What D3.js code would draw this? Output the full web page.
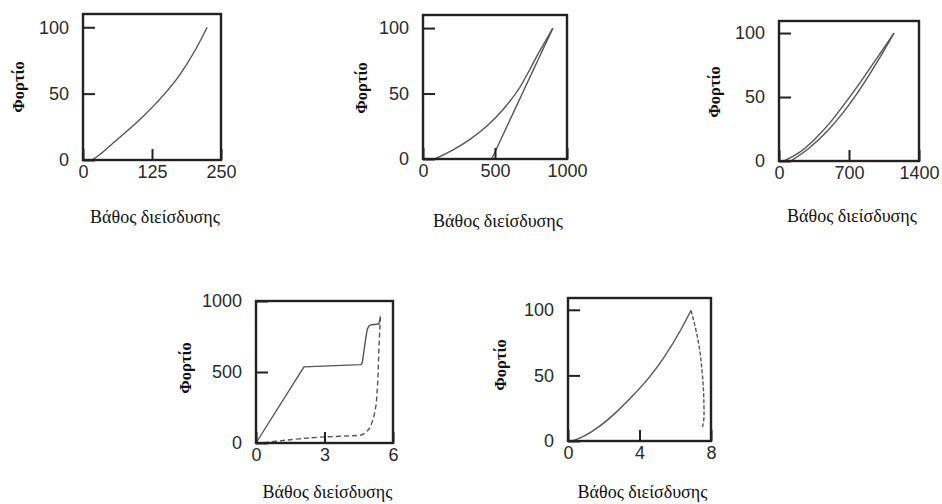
<!DOCTYPE html>
<html><head><meta charset="utf-8">
<script src="https://cdn.jsdelivr.net/npm/d3@7"></script>
<style>body{margin:0;background:#fff}svg{display:block}</style>
</head><body><svg id="c" width="942" height="504"></svg>
<script>
// ---- text ----
const xTitle = "Βάθος διείσδυσης";
const yTitle = "Φορτίο";

// ---- panel 1 ----
const p1XTicks = [0, 125, 250];
const p1YTicks = [0, 50, 100];
const p1LoadDepth = [16, 30, 55, 103, 145, 175, 205, 225];
const p1LoadForce = [0, 4, 13, 30.5, 48.5, 64, 84, 100];

// ---- panel 2 ----
const p2XTicks = [0, 500, 1000];
const p2YTicks = [0, 50, 100];
const p2LoadDepth = [81, 209, 326, 442, 558, 674, 740, 800, 850, 902];
const p2LoadForce = [0, 7, 15, 25, 38, 55, 68, 80.5, 90, 100];
const p2UnloadDepth = [477, 590, 700, 800, 902];
const p2UnloadForce = [0, 26.5, 52.5, 76, 100];

// ---- panel 3 ----
const p3XTicks = [0, 700, 1400];
const p3YTicks = [0, 50, 100];
const p3LoadDepth = [117, 300, 467, 633, 800, 967, 1150];
const p3LoadForce = [0, 10, 22, 37, 55, 75.5, 100];
const p3UnloadDepth = [50, 200, 350, 500, 650, 800, 967, 1150];
const p3UnloadForce = [0, 6.5, 16.5, 29, 44, 60, 79, 100];

// ---- panel 4 ----
const p4XTicks = [0, 3, 6];
const p4YTicks = [0, 500, 1000];
const p4LoadDepth = [0, 2.1, 4.6, 4.66, 4.72, 4.8, 4.87, 4.95, 5.07, 5.38, 5.45];
const p4LoadForce = [0, 536, 552, 570, 640, 730, 800, 825, 833, 838, 890];
const p4UnloadDepth = [5.45, 5.41, 5.37, 5.32, 5.22, 5.1, 4.95, 4.8, 4.6, 3.97, 3.03, 1.88, 0.87, 0.29];
const p4UnloadForce = [890, 760, 600, 400, 230, 155, 100, 75, 56, 49, 43, 29, 12, 0];

// ---- panel 5 ----
const p5XTicks = [0, 4, 8];
const p5YTicks = [0, 50, 100];
const p5LoadDepth = [0.24, 1.0, 1.64, 2.58, 3.51, 4.45, 5.38, 6.32, 6.88];
const p5LoadForce = [0, 4.5, 10, 20.5, 33, 47, 64, 85, 99.5];
const p5UnloadDepth = [6.88, 7.10, 7.35, 7.50, 7.59, 7.61, 7.51];
const p5UnloadForce = [99.5, 87.9, 71, 53, 35, 19.4, 9.6];

const zip = (xs, ys) => xs.map((x, i) => [x, ys[i]]);

const panels = [
  {box:[83,14,221,160], xMax:250, yMax:110, xt:p1XTicks, yt:p1YTicks,
   series:[{pts:zip(p1LoadDepth,p1LoadForce), dash:null, curve:d3.curveMonotoneX}],
   yTitleX:20, yTitleY:87, xTitleY:219},
  {box:[423,15,567,159], xMax:1000, yMax:110, xt:p2XTicks, yt:p2YTicks,
   series:[{pts:zip(p2LoadDepth,p2LoadForce), dash:null, curve:d3.curveMonotoneX},
           {pts:zip(p2UnloadDepth,p2UnloadForce), dash:null, curve:d3.curveMonotoneX}],
   yTitleX:363, yTitleY:88, xTitleY:223},
  {box:[779,21,919,161], xMax:1400, yMax:109.4, xt:p3XTicks, yt:p3YTicks,
   series:[{pts:zip(p3LoadDepth,p3LoadForce), dash:null, curve:d3.curveMonotoneX},
           {pts:zip(p3UnloadDepth,p3UnloadForce), dash:null, curve:d3.curveMonotoneX}],
   yTitleX:716, yTitleY:92, xTitleY:218},
  {box:[256,301,393,443], xMax:6, yMax:1000, xt:p4XTicks, yt:p4YTicks,
   series:[{pts:zip(p4LoadDepth,p4LoadForce), dash:null, curve:d3.curveLinear},
           {pts:zip(p4UnloadDepth,p4UnloadForce), dash:"5,3", curve:d3.curveMonotoneY}],
   yTitleX:187, yTitleY:368, xTitleY:494},
  {box:[568,298,711,441], xMax:8, yMax:109, xt:p5XTicks, yt:p5YTicks,
   series:[{pts:zip(p5LoadDepth,p5LoadForce), dash:null, curve:d3.curveMonotoneX},
           {pts:zip(p5UnloadDepth,p5UnloadForce), dash:"4,2", curve:d3.curveMonotoneY}],
   yTitleX:502, yTitleY:365, xTitleY:494}
];

const svg = d3.select("#c");
const tickFont = "Liberation Sans, Arial, sans-serif";
const serif = "Liberation Serif, Times New Roman, serif";

panels.forEach(p => {
  const [x0,y0,x1,y1] = p.box;
  const x = d3.scaleLinear().domain([0,p.xMax]).range([x0,x1]);
  const y = d3.scaleLinear().domain([0,p.yMax]).range([y1,y0]);
  const g = svg.append("g");

  // curves
  p.series.forEach(s => {
    const line = d3.line().x(d=>x(d[0])).y(d=>y(d[1])).curve(s.curve);
    g.append("path").attr("d", line(s.pts)).attr("fill","none")
      .attr("stroke","#555").attr("stroke-width",1.4)
      .attr("stroke-linejoin","round")
      .attr("stroke-dasharray", s.dash);
  });

  // axes (ticks inward)
  const xa = d3.axisBottom(x).tickValues(p.xt).tickSize(-11).tickPadding(14).tickFormat(d3.format("d"));
  const ya = d3.axisLeft(y).tickValues(p.yt).tickSize(-12).tickPadding(14).tickFormat(d3.format("d"));
  const gx = g.append("g").attr("transform",`translate(0,${y1})`).call(xa);
  const gy = g.append("g").attr("transform",`translate(${x0},0)`).call(ya);
  [gx,gy].forEach(a => {
    a.select(".domain").remove();
    a.selectAll(".tick line").attr("stroke","#222").attr("stroke-width",2);
    a.selectAll(".tick text").attr("fill","#2a2a2a").style("font-family",tickFont).style("font-size","18px");
  });
  gx.selectAll(".tick text").attr("dy","0.2em");

  // frame
  g.append("rect").attr("x",x0).attr("y",y0).attr("width",x1-x0).attr("height",y1-y0)
    .attr("fill","none").attr("stroke","#222").attr("stroke-width",2.4);

  // titles
  g.append("text").attr("x",(x0+x1)/2+3).attr("y",p.xTitleY).attr("text-anchor","middle")
    .attr("dominant-baseline","middle")
    .style("font-family",serif).style("font-size","18px").attr("fill","#111").text(xTitle);
  g.append("text").attr("transform",`translate(${p.yTitleX},${p.yTitleY}) rotate(-90)`)
    .attr("text-anchor","middle").attr("dominant-baseline","middle")
    .style("font-family",serif).style("font-size","16.5px").style("font-weight","bold")
    .attr("fill","#111").text(yTitle);
});
</script>
</body></html>
